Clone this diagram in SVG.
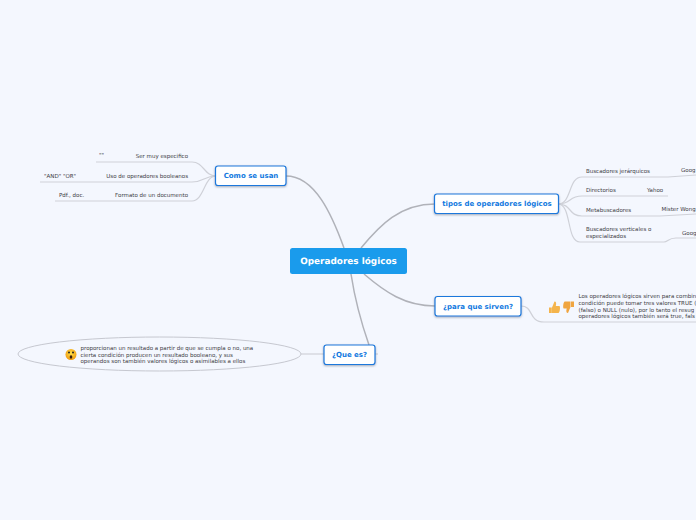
<svg xmlns="http://www.w3.org/2000/svg" width="696" height="520" viewBox="0 0 696 520">
<defs>
<radialGradient id="fg" cx="50%" cy="40%" r="60%"><stop offset="0" stop-color="#ffe04a"/><stop offset="1" stop-color="#f09a10"/></radialGradient>
<filter id="sh" x="-10%" y="-20%" width="120%" height="150%"><feDropShadow dx="0" dy="1" stdDeviation="0.8" flood-color="#5a6a80" flood-opacity="0.55"/></filter>
</defs>
<style>
text{text-rendering:geometricPrecision}
.t{font-family:"DejaVu Sans",sans-serif;font-size:5.5px;fill:#3c3c44}
.n{font-family:"DejaVu Sans",sans-serif;font-size:7px;font-weight:700;fill:#1279e0;text-anchor:middle}
.b{fill:#fff;stroke:#1a78dc;stroke-width:1.2;filter:url(#sh)}
.c{fill:none;stroke:#cfd1d8;stroke-width:1.2}
.m{fill:none;stroke:#b0b2b9;stroke-width:1.5}
.e{text-anchor:end}
</style>
<rect width="696" height="520" fill="#f4f7fe"/>
<g id="connectors">
<path class="m" d="M344 248C332 215 315 176 286 176"/>
<path class="m" d="M361 248C380 225 400 204 435 204"/>
<path class="m" d="M364 274C385 292 405 306 435 306"/>
<path class="m" d="M351 274C355 300 362 325 369 345"/>
<path class="c" d="M375 354H378"/>
<path class="c" d="M301 354H324"/>
<path class="c" d="M216 176C204 176 204 162 192 162H96"/>
<path class="c" d="M216 176C204 176 204 182 192 182H40"/>
<path class="c" d="M216 176C204 176 204 201 192 201H55"/>
<path class="c" d="M558 204C572 204 568 177 582 177H668L696 175"/>
<path class="c" d="M558 204C572 204 568 196 582 196H668"/>
<path class="c" d="M558 204C572 204 568 216 582 216H660L696 214"/>
<path class="c" d="M558 204C572 204 566 242 580 242H664C668 242 668 238 676 238H696"/>
<path class="c" d="M521 306C534 306 528 322 544 322H696"/>
</g>
<g id="central"><rect x="290" y="248" width="117" height="26" rx="2.5" fill="#1a9bec"/><text x="348.500" y="264" text-anchor="middle" font-family="DejaVu Sans, sans-serif" font-size="8.900" font-weight="700" fill="#fff">Operadores lógicos</text></g>
<g id="como"><rect class="b" x="215.500" y="166" width="70.500" height="19.500" rx="2.500"/><text class="n" x="251" y="178">Como se usan</text></g>
<g id="tipos"><rect class="b" x="434.500" y="194" width="124" height="19.500" rx="2.500"/><text class="n" x="497" y="206">tipos de operadores lógicos</text></g>
<g id="para"><rect class="b" x="435" y="296.500" width="86" height="19.500" rx="2.500"/><text class="n" x="478" y="309">¿para que sirven?</text></g>
<g id="que"><rect class="b" x="324" y="345" width="51" height="19.500" rx="2.500"/><text class="n" x="349.500" y="357">¿Que es?</text></g>
<g id="c1"><text class="t e" x="188" y="158">Ser muy especifico</text><text class="t" x="99" y="157">""</text></g>
<g id="c2"><text class="t e" x="188" y="178">Uso de operadores booleanos</text><text class="t" x="44" y="178">"AND" "OR"</text></g>
<g id="c3"><text class="t e" x="188" y="197">Formato de un documento</text><text class="t" x="59" y="197">Pdf., doc.</text></g>
<g id="t1"><text class="t" x="586" y="173">Buscadores jerárquicos</text><text class="t" x="681" y="172">Goog</text></g>
<g id="t2"><text class="t" x="586" y="192">Directorios</text><text class="t" x="647" y="192">Yahoo</text></g>
<g id="t3"><text class="t" x="586" y="212">Metabuscadores</text><text class="t" x="661.500" y="211">Mister Wong</text></g>
<g id="t4"><text class="t" x="586" y="231">Buscadores verticales o</text><text class="t" x="586" y="238">especializados</text><text class="t" x="682" y="235">Goog</text></g>
<g id="p1">
<path d="M549 307.500h2.800v5.500h-2.800zM552 307.500l2.500-6c1.800 0 2 2 1.300 4.500h3.700c1 .5.500 6.500-1 7h-6.500z" fill="#f4b44c"/>
<path d="M571 307h3v-5.500h-3zM570.500 307l-2.500 6c-1.800 0-2-2-1.300-4.500h-3c-1-.5-.5-6.500 1-7h5.800z" fill="#f0a540"/>
<text class="t" x="578.500" y="298">Los operadores lógicos sirven para combin</text>
<text class="t" x="578.500" y="305">condición puede tomar tres valores TRUE (</text>
<text class="t" x="578.500" y="311.500">(falso) o NULL (nulo), por lo tanto el resug</text>
<text class="t" x="578.500" y="318">operadores lógicos también será true, fals</text>
</g>
<g id="d1">
<ellipse cx="159.500" cy="354" rx="141.500" ry="17" fill="#f4f7fe" stroke="#c6c8d0"/>
<circle cx="71" cy="354.500" r="5.500" fill="url(#fg)"/><circle cx="69" cy="352.500" r="1" fill="#222"/><circle cx="73" cy="352.500" r="1" fill="#222"/><ellipse cx="71" cy="357" rx="1.300" ry="1.700" fill="#3a2010"/>
<text class="t" x="80.500" y="350">proporcionan un resultado a partir de que se cumpla o no, una</text>
<text class="t" x="80.500" y="356.500">cierta condición producen un resultado booleano, y sus</text>
<text class="t" x="80.500" y="363">operandos son también valores lógicos o asimilables a ellos</text>
</g>
</svg>
